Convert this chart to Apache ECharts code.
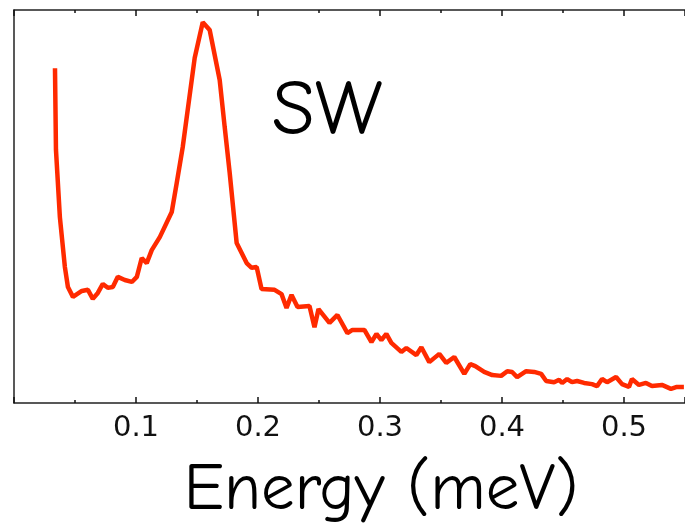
<!DOCTYPE html>
<html>
<head>
<meta charset="utf-8">
<script src="https://cdn.jsdelivr.net/npm/echarts@6/dist/echarts.min.js"></script>
<style>html,body{margin:0;padding:0;background:#fff;}#chart{width:685px;height:524px;}</style>
</head>
<body>
<div id="chart"></div>
<script>
// Energy (meV) values
const energy = [0.0336,0.0344,0.0376,0.0417,0.0442,0.0483,0.0556,0.0606,0.0646,0.0687,0.0728,0.0769,0.0810,0.0851,0.0908,0.0966,0.1007,0.1047,0.1088,0.1129,0.1195,0.1293,0.1334,0.1383,0.1424,0.1481,0.1547,0.1604,0.1686,0.1727,0.1768,0.1825,0.1907,0.1948,0.1989,0.2029,0.2136,0.2193,0.2234,0.2275,0.2324,0.2422,0.2463,0.2496,0.2586,0.2651,0.2733,0.2774,0.2872,0.2930,0.2971,0.3011,0.3052,0.3093,0.3175,0.3216,0.3298,0.3339,0.3404,0.3486,0.3543,0.3609,0.3691,0.3740,0.3781,0.3854,0.3920,0.3993,0.4043,0.4083,0.4124,0.4198,0.4264,0.4321,0.4362,0.4427,0.4468,0.4493,0.4534,0.4574,0.4615,0.4673,0.4738,0.4779,0.4820,0.4861,0.4935,0.4984,0.5041,0.5065,0.5123,0.5180,0.5229,0.5311,0.5385,0.5434,0.5491];
// Intensity (arbitrary units)
const intensity = [85.2,64.4,47.3,34.6,29.5,27.0,28.5,28.8,26.5,28.0,30.3,29.3,29.5,32.1,31.3,30.8,32.1,36.9,35.6,38.9,42.2,48.6,56.0,65.1,74.6,87.8,96.9,94.9,82.2,70.2,58.5,40.7,35.6,34.4,34.6,29.0,28.8,27.7,24.2,27.5,24.4,24.7,19.3,23.9,20.4,22.4,17.8,18.6,18.6,15.5,17.6,16.0,17.6,15.3,13.0,14.0,12.2,14.2,10.4,12.5,10.2,11.7,7.4,9.9,9.4,7.9,7.1,6.9,8.1,7.9,6.6,8.1,7.9,7.4,5.6,5.3,5.9,5.1,6.1,5.3,5.6,5.1,4.8,4.3,6.1,5.3,6.6,4.8,4.1,6.1,4.6,5.1,4.3,4.6,3.6,4.1,4.1];
const xTicks = [0.1,0.2,0.3,0.4,0.5];
const seriesLabel = 'SW';
const xTitle = 'Energy (meV)';

const points = energy.map((e,i)=>[e,intensity[i]]);
const chart = echarts.init(document.getElementById('chart'));
const axisLine = {show:true, lineStyle:{color:'#222', width:1.5}};
const tickStyle = {color:'#111', width:1.5};
const fmt = v => xTicks.some(t=>Math.abs(t-v)<1e-6) ? v.toFixed(1) : '';
chart.setOption({
  animation:false,
  grid:{left:14, top:10, width:672, bottom:121},
  xAxis:[{
    type:'value', min:0, max:0.55, interval:0.1, position:'bottom',
    axisLine:axisLine,
    axisTick:{show:true, inside:true, length:6, lineStyle:tickStyle},
    minorTick:{show:true, splitNumber:2, length:3, lineStyle:tickStyle},
    splitLine:{show:false}, minorSplitLine:{show:false},
    axisLabel:{formatter:fmt, showMinLabel:false, showMaxLabel:false, fontFamily:'DejaVu Sans', fontSize:29, color:'#111', margin:11}
  },{
    type:'value', min:0, max:0.55, interval:0.1, position:'top',
    axisLine:axisLine,
    axisTick:{show:true, inside:true, length:6, lineStyle:tickStyle},
    minorTick:{show:true, splitNumber:2, length:3, lineStyle:tickStyle},
    splitLine:{show:false}, axisLabel:{show:false}
  }],
  yAxis:{type:'value', min:0, max:100, axisLine:axisLine, axisTick:{show:false}, axisLabel:{show:false}, splitLine:{show:false}},
  series:[{type:'line', xAxisIndex:0, data:points, showSymbol:false, lineStyle:{color:'#ff2a00', width:4.5}, clip:false}],
  graphic:[
    {type:'text', x:327, y:112, style:{text:seriesLabel, fontFamily:'"Comic Sans MS","Comic Neue","DejaVu Sans"', fontSize:78, fill:'#000', align:'center', verticalAlign:'middle'}},
    {type:'text', x:381, y:490, style:{text:xTitle, fontFamily:'"Comic Sans MS","Comic Neue","DejaVu Sans"', fontSize:67, fill:'#000', align:'center', verticalAlign:'middle'}}
  ]
});
</script>
</body>
</html>
